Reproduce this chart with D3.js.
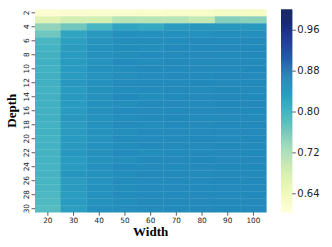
<!DOCTYPE html>
<html>
<head>
<meta charset="utf-8">
<script src="https://cdn.jsdelivr.net/npm/d3@7"></script>
<style>
  body { margin: 0; background: #fff; }
  svg text { font-family: "DejaVu Sans", sans-serif; }
</style>
</head>
<body>
<div id="chart"></div>
<script>
// widths (columns) and depths (rows)
let widths = [20, 30, 40, 50, 60, 70, 80, 90, 100];
let depths = [2, 3, 4, 5, 6, 7, 8, 9, 10, 11, 12, 13, 14, 15, 16, 17, 18, 19, 20, 21, 22, 23, 24, 25, 26, 27, 28, 29, 30];
let depthTicks = [2, 4, 6, 8, 10, 12, 14, 16, 18, 20, 22, 24, 26, 28, 30];
let colorTicks = [0.64, 0.72, 0.80, 0.88, 0.96];

// accuracy per depth row, one value per width
let accuracy = [
  [0.612, 0.614, 0.616, 0.618, 0.620, 0.622, 0.624, 0.630, 0.632],
  [0.665, 0.685, 0.685, 0.710, 0.710, 0.710, 0.700, 0.750, 0.745],
  [0.740, 0.765, 0.800, 0.825, 0.820, 0.835, 0.840, 0.840, 0.840],
  [0.765, 0.825, 0.840, 0.850, 0.850, 0.850, 0.850, 0.852, 0.852],
  [0.798, 0.832, 0.845, 0.852, 0.853, 0.853, 0.855, 0.854, 0.856],
  [0.803, 0.835, 0.846, 0.853, 0.852, 0.855, 0.854, 0.856, 0.855],
  [0.806, 0.838, 0.847, 0.852, 0.854, 0.854, 0.855, 0.855, 0.857],
  [0.807, 0.836, 0.845, 0.854, 0.853, 0.856, 0.855, 0.856, 0.856],
  [0.805, 0.838, 0.848, 0.853, 0.855, 0.855, 0.856, 0.855, 0.857],
  [0.806, 0.836, 0.846, 0.852, 0.854, 0.856, 0.855, 0.857, 0.856],
  [0.807, 0.840, 0.848, 0.854, 0.855, 0.855, 0.857, 0.856, 0.857],
  [0.804, 0.837, 0.847, 0.853, 0.854, 0.856, 0.855, 0.857, 0.856],
  [0.806, 0.839, 0.846, 0.855, 0.853, 0.855, 0.856, 0.856, 0.857],
  [0.807, 0.836, 0.848, 0.852, 0.855, 0.856, 0.855, 0.857, 0.856],
  [0.805, 0.838, 0.847, 0.854, 0.854, 0.855, 0.856, 0.856, 0.857],
  [0.806, 0.840, 0.846, 0.853, 0.855, 0.857, 0.855, 0.856, 0.856],
  [0.804, 0.835, 0.848, 0.854, 0.853, 0.855, 0.856, 0.857, 0.857],
  [0.805, 0.837, 0.847, 0.852, 0.855, 0.856, 0.855, 0.856, 0.856],
  [0.803, 0.836, 0.846, 0.854, 0.854, 0.855, 0.857, 0.855, 0.857],
  [0.804, 0.839, 0.848, 0.853, 0.855, 0.856, 0.856, 0.857, 0.856],
  [0.802, 0.842, 0.847, 0.854, 0.853, 0.855, 0.855, 0.856, 0.857],
  [0.803, 0.836, 0.846, 0.852, 0.855, 0.856, 0.857, 0.856, 0.856],
  [0.801, 0.838, 0.848, 0.854, 0.854, 0.855, 0.856, 0.857, 0.857],
  [0.802, 0.843, 0.847, 0.853, 0.856, 0.856, 0.855, 0.856, 0.856],
  [0.800, 0.835, 0.846, 0.854, 0.854, 0.855, 0.856, 0.857, 0.857],
  [0.799, 0.838, 0.848, 0.853, 0.855, 0.856, 0.855, 0.856, 0.856],
  [0.794, 0.834, 0.847, 0.854, 0.854, 0.855, 0.856, 0.855, 0.857],
  [0.793, 0.836, 0.846, 0.853, 0.855, 0.856, 0.856, 0.856, 0.856],
  [0.787, 0.833, 0.850, 0.852, 0.854, 0.855, 0.856, 0.857, 0.856]
];
let vmin = 0.603, vmax = 1.0;

let W = 332, H = 247;
let plot = {left: 35, right: 266.3, top: 9.3, bottom: 212.2};
let bar = {left: 281, right: 292.3};

let svg = d3.select("#chart").append("svg")
  .attr("width", W).attr("height", H);

let x = d3.scaleBand().domain(widths).range([plot.left, plot.right]);
let y = d3.scaleBand().domain(depths).range([plot.top, plot.bottom]);
let color = d3.scaleSequential(d3.interpolateYlGnBu).domain([vmin, vmax]);

let cells = [];
accuracy.forEach(function(row, i) {
  row.forEach(function(v, j) {
    cells.push({d: depths[i], w: widths[j], v: v});
  });
});

svg.append("g").selectAll("rect")
  .data(cells)
  .enter()
  .append("rect")
  .attr("x", d => x(d.w))
  .attr("y", d => y(d.d))
  .attr("width", x.bandwidth() + 0.3)
  .attr("height", y.bandwidth() + 0.3)
  .attr("fill", d => color(d.v));

// x axis
let xAxis = svg.append("g")
  .attr("transform", "translate(0," + plot.bottom + ")")
  .call(d3.axisBottom(x).tickSize(3.5).tickPadding(2));
xAxis.select(".domain").remove();
xAxis.selectAll("text").style("font-size", "7.3px").attr("fill", "#222");
xAxis.selectAll("line").attr("stroke", "#333").attr("stroke-width", 0.8);

// y axis, every other depth
let yAxis = svg.append("g")
  .attr("transform", "translate(" + plot.left + ",0)")
  .call(d3.axisLeft(y).tickValues(depthTicks).tickSize(3.5).tickPadding(2));
yAxis.select(".domain").remove();
yAxis.selectAll("line").attr("stroke", "#333").attr("stroke-width", 0.8);
yAxis.selectAll("text")
  .style("font-size", "7.3px").attr("fill", "#222")
  .attr("x", null).attr("dy", null)
  .attr("text-anchor", "middle")
  .attr("transform", "translate(-8.5,0) rotate(-90)")
  .attr("dy", "0.35em");

svg.append("text")
  .attr("x", (plot.left + plot.right) / 2)
  .attr("y", 236)
  .attr("text-anchor", "middle")
  .style("font-family", "'Liberation Serif', serif")
  .style("font-weight", "bold")
  .style("font-size", "13px")
  .text("Width");

svg.append("text")
  .attr("transform", "translate(16," + ((plot.top + plot.bottom) / 2) + ") rotate(-90)")
  .attr("text-anchor", "middle")
  .style("font-family", "'Liberation Serif', serif")
  .style("font-weight", "bold")
  .style("font-size", "13px")
  .text("Depth");

// colorbar
let cy = d3.scaleLinear().domain([vmin, vmax]).range([plot.bottom, plot.top]);
let steps = d3.range(0, 200).map(i => vmin + (vmax - vmin) * i / 200);
svg.append("g").selectAll("rect")
  .data(steps)
  .enter()
  .append("rect")
  .attr("x", bar.left)
  .attr("width", bar.right - bar.left)
  .attr("y", d => cy(d + (vmax - vmin) / 200))
  .attr("height", d => cy(d) - cy(d + (vmax - vmin) / 200) + 0.5)
  .attr("fill", d => color(d + (vmax - vmin) / 400));

let cAxis = svg.append("g")
  .attr("transform", "translate(" + bar.right + ",0)")
  .call(d3.axisRight(cy).tickValues(colorTicks).tickFormat(d3.format(".2f")).tickSize(3.5).tickPadding(1.5));
cAxis.select(".domain").remove();
cAxis.selectAll("line").attr("stroke", "#333").attr("stroke-width", 0.8);
cAxis.selectAll("text").style("font-size", "10px").attr("fill", "#222");
</script>
</body>
</html>
